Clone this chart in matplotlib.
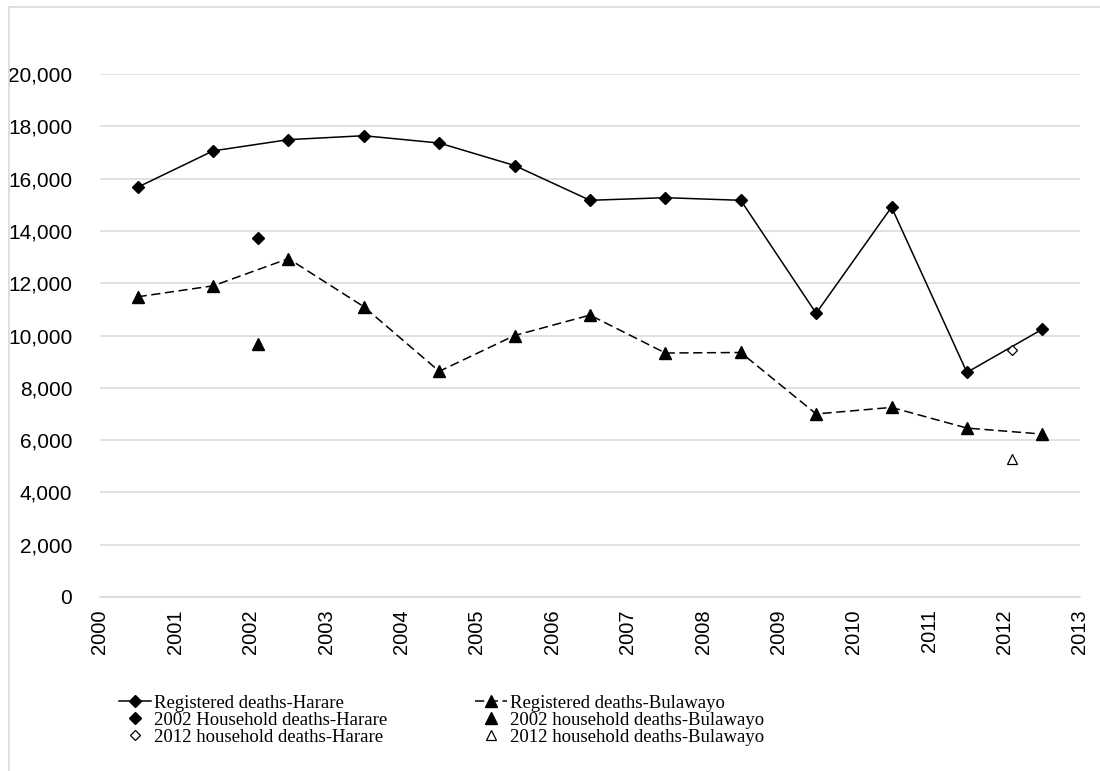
import matplotlib
matplotlib.use("Agg")
import matplotlib.pyplot as plt
from matplotlib.lines import Line2D
from matplotlib.ticker import FuncFormatter, MultipleLocator

# --- data ---
years = [2000.5, 2001.5, 2002.5, 2003.5, 2004.5, 2005.5, 2006.5,
         2007.5, 2008.5, 2009.5, 2010.5, 2011.5, 2012.5]
harare = [15670, 17060, 17490, 17640, 17360, 16500, 15170,
          15270, 15170, 10850, 14910, 8590, 10240]
bulawayo = [11480, 11900, 12940, 11100, 8630, 10000, 10780,
            9330, 9350, 7000, 7250, 6460, 6230]

hh2002_year = [2002.1]
hh2002_harare = [13730]
hh2002_bulawayo = [9680]

hh2012_year = [2012.1]
hh2012_harare = [9440]
hh2012_bulawayo = [5270]

tick_years = list(range(2000, 2014))

fig = plt.figure(figsize=(11, 7.71), dpi=100)
ax = fig.add_axes([100 / 1100, 1 - 597 / 771, 980 / 1100, 523 / 771])

ax.plot(years, harare, color="black", lw=1.1, marker="D", ms=6.4,
        label="Registered deaths-Harare")
ax.plot(hh2002_year, hh2002_harare, ls="none", marker="D", ms=6.4,
        color="black", label="2002 Household deaths-Harare")
ax.plot(hh2012_year, hh2012_harare, ls="none", marker="D", ms=5,
        mfc="white", mec="black", mew=0.9, label="2012 household deaths-Harare")
ax.plot(years, bulawayo, color="black", lw=1.1, dashes=(6, 3), marker="^",
        ms=9, label="Registered deaths-Bulawayo")
ax.plot(hh2002_year, hh2002_bulawayo, ls="none", marker="^", ms=9,
        color="black", label="2002 household deaths-Bulawayo")
ax.plot(hh2012_year, hh2012_bulawayo, ls="none", marker="^", ms=7.5,
        mfc="white", mec="black", mew=0.9, label="2012 household deaths-Bulawayo")

ax.set_xlim(2000, 2013)
ax.set_ylim(0, 20000)
ax.set_xticks(tick_years)
ax.set_xticklabels([str(y) for y in tick_years], rotation=90,
                   fontsize=14.5, family="Liberation Sans")
ax.yaxis.set_major_locator(MultipleLocator(2000))
ax.yaxis.set_major_formatter(FuncFormatter(lambda v, p: f"{int(v):,}"))
for lbl in ax.get_yticklabels():
    lbl.set_family("Liberation Sans")
    lbl.set_fontsize(15)
ax.tick_params(axis="both", length=0)
ax.tick_params(axis="y", pad=20)
ax.tick_params(axis="x", pad=9)

ax.grid(axis="y", color="#d9d9d9", lw=1.1)
ax.set_axisbelow(True)
for side in ["top", "right", "left"]:
    ax.spines[side].set_visible(False)
ax.spines["bottom"].set_color("#d9d9d9")
ax.spines["bottom"].set_linewidth(1.1)

ax.legend(loc="upper left", bbox_to_anchor=(0.012, -0.172), ncol=2,
          frameon=False, prop={"family": "Liberation Serif", "size": 13.5},
          handlelength=1.7, handletextpad=0.15, labelspacing=0.0,
          columnspacing=4.7, borderaxespad=0)

# light outer frame
fig.add_artist(Line2D([9 / 1100, 1.0], [1 - 7 / 771, 1 - 7 / 771],
                      color="#d9d9d9", lw=1.2, transform=fig.transFigure))
fig.add_artist(Line2D([9 / 1100, 9 / 1100], [0.0, 1 - 7 / 771],
                      color="#d9d9d9", lw=1.2, transform=fig.transFigure))

fig.savefig("out.png", dpi=100)
